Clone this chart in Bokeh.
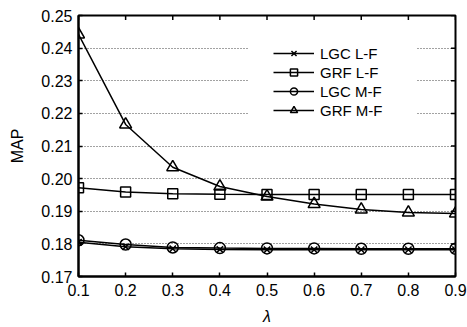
import math
from bokeh.plotting import figure
from bokeh.models import Legend, LegendItem, FixedTicker, PrintfTickFormatter, Range1d
from bokeh.embed import file_html
from bokeh.resources import INLINE

lam = [0.1, 0.2, 0.3, 0.4, 0.5, 0.6, 0.7, 0.8, 0.9]
lgc_lf = [0.1805, 0.1791, 0.1785, 0.1783, 0.1782, 0.1782, 0.1782, 0.1782, 0.1782]
grf_lf = [0.1972, 0.1959, 0.1954, 0.1952, 0.1951, 0.1951, 0.1951, 0.1951, 0.1951]
lgc_mf = [0.1811, 0.1798, 0.1789, 0.1787, 0.1786, 0.1786, 0.1785, 0.1785, 0.1785]
grf_mf = [0.2442, 0.2166, 0.2035, 0.1976, 0.1945, 0.1922, 0.1905, 0.1896, 0.1893]
names = ["LGC L-F", "GRF L-F", "LGC M-F", "GRF M-F"]
x_ticks = [0.1, 0.2, 0.3, 0.4, 0.5, 0.6, 0.7, 0.8, 0.9]
y_ticks = [0.17, 0.18, 0.19, 0.20, 0.21, 0.22, 0.23, 0.24, 0.25]
x_lim = (0.1, 0.9)
y_lim = (0.17, 0.25)

FONT = "Liberation Sans"

p = figure(width=467, height=327, output_backend="svg", toolbar_location=None,
           x_range=Range1d(*x_lim), y_range=Range1d(*y_lim),
           min_border_left=78, min_border_right=12, min_border_top=15, min_border_bottom=50)
p.background_fill_color = "white"
p.outline_line_color = "black"
p.outline_line_width = 2

for ax in (p.xaxis[0], p.yaxis[0]):
    ax.axis_line_width = 2
    ax.axis_line_color = "black"
    ax.major_tick_in = 4
    ax.major_tick_out = 0
    ax.minor_tick_in = 0
    ax.minor_tick_out = 0
    ax.major_tick_line_width = 1.5
    ax.major_label_text_font = FONT
    ax.major_label_text_font_size = "16px"
    ax.major_label_text_color = "black"
    ax.axis_label_text_font = FONT
    ax.axis_label_text_font_size = "16px"
    ax.axis_label_text_font_style = "normal"
    ax.axis_label_text_color = "black"

p.xaxis[0].ticker = FixedTicker(ticks=x_ticks)
p.xaxis[0].formatter = PrintfTickFormatter(format="%.1f")
p.xaxis[0].major_label_standoff = 7
p.xaxis[0].axis_label = "λ"
p.xaxis[0].axis_label_text_font_style = "italic"
p.xaxis[0].axis_label_standoff = 9

p.yaxis[0].ticker = FixedTicker(ticks=y_ticks)
p.yaxis[0].formatter = PrintfTickFormatter(format="%.2f")
p.yaxis[0].major_label_standoff = 6
p.yaxis[0].axis_label = "MAP"
p.yaxis[0].axis_label_standoff = 12

# inward ticks on the top and right edges of the box
p.scatter(x_ticks, [y_lim[1]] * len(x_ticks), marker="dash", angle=math.pi / 2, size=9,
          line_color="black", line_width=1.5)
p.scatter([x_lim[1]] * len(y_ticks), y_ticks, marker="dash", size=9,
          line_color="black", line_width=1.5)

p.xgrid.visible = False
p.ygrid.ticker = FixedTicker(ticks=y_ticks[1:-1])
p.ygrid.grid_line_color = "#444444"
p.ygrid.grid_line_width = 1
p.ygrid.grid_line_dash = "1 2"

series = [lgc_lf, grf_lf, lgc_mf, grf_mf]
markers = ["x", "square", "circle", "triangle"]
sizes = [9, 10, 11, 12]
items = []
for name, ys, mk, sz in zip(names, series, markers, sizes):
    ln = p.line(lam, ys, line_color="black", line_width=1.5)
    sc = p.scatter(lam, ys, marker=mk, size=sz, line_color="black", line_width=1.5,
                   fill_color=None)
    items.append(LegendItem(label=name, renderers=[ln, sc]))

legend = Legend(items=items, location=(171, 133), padding=23, margin=0,
                border_line_color="white", border_line_width=1,
                background_fill_color="white", background_fill_alpha=1,
                label_text_font=FONT, label_text_font_size="15px", label_text_color="black",
                glyph_width=41, glyph_height=18, label_height=18, label_standoff=6,
                label_width=73, spacing=1)
p.add_layout(legend, "center")

open("out.html", "w").write(file_html(p, INLINE))
